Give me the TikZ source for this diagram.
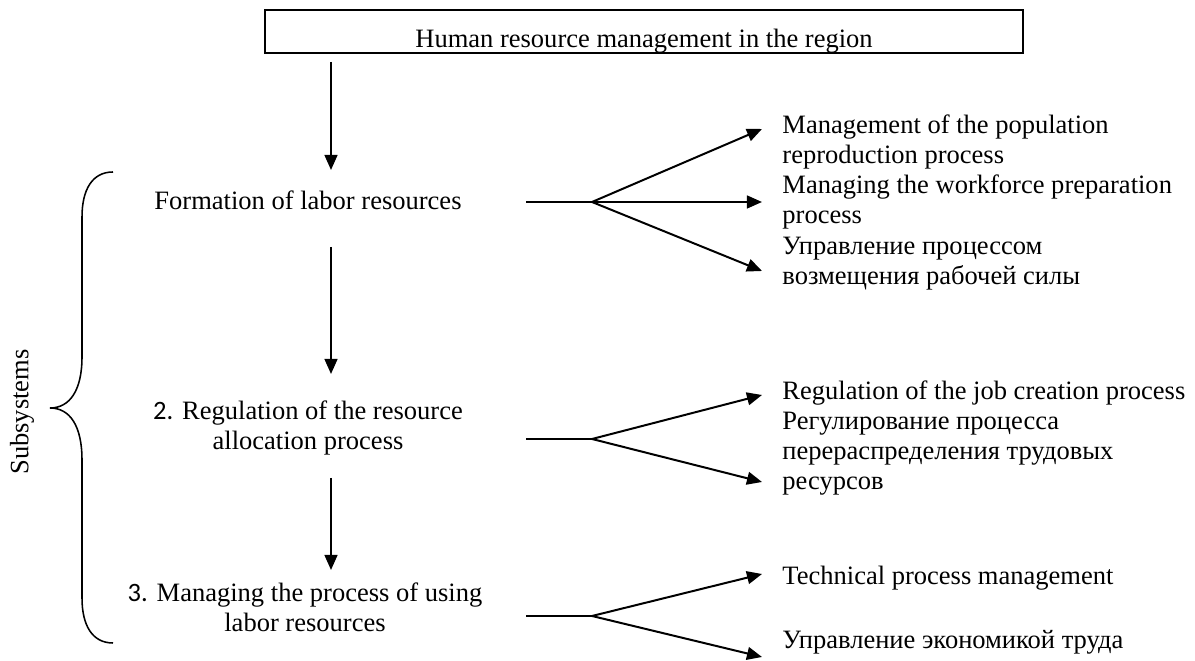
\documentclass[tikz,border=0pt]{standalone}
\usepackage{fontspec}
\setmainfont{Liberation Serif}
\newfontfamily\calibri{Carlito}
\usepackage{tikz}
\usetikzlibrary{arrows.meta, positioning, calc}
\tikzset{>=Latex}

\begin{document}
\begin{tikzpicture}[x=0.4525pt, y=-0.4525pt, >={Triangle[length=6.8pt,width=5.8pt]},
    every node/.style={font=\fontsize{12}{13.6}\selectfont},
    pfeil/.style={->, line width=0.9pt},
    linie/.style={line width=0.9pt},
    ziel/.style={anchor=west, align=left, inner sep=0pt},
    block/.style={align=center, inner sep=0pt}]

            \useasboundingbox (0,0) rectangle (1195,661);

            % Kasten oben
            \node[draw, line width=0.9pt, minimum width=343pt, minimum height=19.5pt,
                  inner sep=0pt, text height=14.6pt, text depth=0pt] (region) at (644,31.5)
                  {Human resource management in the region};

            % Subsysteme links
            \node[block] (form) at (308,200) {Formation of labor resources};
            \node[block] (alloc) at (308,428) {{\calibri 2.} Regulation of the resource\\allocation process};
            \node[block] (use) at (305,607) {{\calibri 3.} Managing the process of using\\labor resources};

            % Klammer mit Beschriftung
            \draw[line width=0.7pt] (113,172) .. controls (92,172) and (82,190) .. (82,217)
                -- (82,357) .. controls (82,390) and (70,408) .. (50,408)
                .. controls (70,408) and (82,426) .. (82,460)
                -- (82,598) .. controls (82,625) and (92,643) .. (113,643);
            \node[rotate=90] (subsys) at (22,412) {Subsystems};

            % senkrechte Pfeile
            \coordinate (p1o) at (331,62);
            \coordinate (p1u) at (331,170);
            \coordinate (p2o) at (331,247);
            \coordinate (p2u) at (331,374);
            \coordinate (p3o) at (331,478);
            \coordinate (p3u) at (331,570);
            \draw[pfeil] (p1o) -- (p1u);
            \draw[pfeil] (p2o) -- (p2u);
            \draw[pfeil] (p3o) -- (p3u);

            % Texte rechts
            \node[ziel] (mrepro) at (782,142) {Management of the population\\reproduction process};
            \node[ziel] (mwork) at (782,202) {Managing the workforce preparation\\process};
            \node[ziel] (uvozm) at (782,264) {Управление процессом\\возмещения рабочей силы};
            \node[ziel] (rjob) at (782,393) {Regulation of the job creation process};
            \node[ziel] (rpere) at (782,454) {Регулирование процесса\\перераспределения трудовых\\ресурсов};
            \node[ziel] (tech) at (782,578) {Technical process management};
            \node[ziel] (uekon) at (782,642) {Управление экономикой труда};

            % Verzweigung 1
            \coordinate (s1) at (526,202);
            \coordinate (g1) at (592,202);
            \coordinate (t1a) at (762,129);
            \coordinate (t1b) at (762,202);
            \coordinate (t1c) at (762,271);
            \draw[linie] (s1) -- (g1);
            \draw[pfeil] (g1) -- (t1a);
            \draw[pfeil] (g1) -- (t1b);
            \draw[pfeil] (g1) -- (t1c);

            % Verzweigung 2
            \coordinate (s2) at (526,439);
            \coordinate (g2) at (592,439);
            \coordinate (t2a) at (762,395);
            \coordinate (t2b) at (762,482);
            \draw[linie] (s2) -- (g2);
            \draw[pfeil] (g2) -- (t2a);
            \draw[pfeil] (g2) -- (t2b);

            % Verzweigung 3
            \coordinate (s3) at (526,616);
            \coordinate (g3) at (592,616);
            \coordinate (t3a) at (762,574);
            \coordinate (t3b) at (762,657);
            \draw[linie] (s3) -- (g3);
            \draw[pfeil] (g3) -- (t3a);
            \draw[pfeil] (g3) -- (t3b);

\end{tikzpicture}
\end{document}
